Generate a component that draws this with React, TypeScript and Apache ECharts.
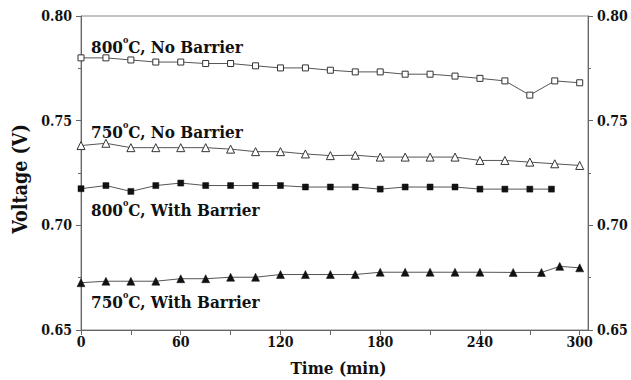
import React, { useEffect, useRef } from "react";
import * as echarts from "echarts";

const timeTicks = [0, 60, 120, 180, 240, 300];
const voltageTicks = [0.65, 0.7, 0.75, 0.8];

const t800NoBarrier = [0, 15, 30, 45, 60, 75, 90, 105, 120, 135, 150, 165, 180, 195, 210, 225, 240, 255, 270, 285, 300];
const v800NoBarrier = [0.780, 0.780, 0.779, 0.778, 0.778, 0.7773, 0.7773, 0.7762, 0.7752, 0.7752, 0.7741, 0.7733, 0.7733, 0.7722, 0.7722, 0.7713, 0.7702, 0.769, 0.7622, 0.769, 0.7681];

const t750NoBarrier = [0, 15, 30, 45, 60, 75, 90, 105, 120, 135, 150, 165, 180, 195, 210, 225, 240, 255, 270, 285, 300];
const v750NoBarrier = [0.7381, 0.7392, 0.7371, 0.7371, 0.7371, 0.7371, 0.7364, 0.7352, 0.7352, 0.7341, 0.7333, 0.7335, 0.7326, 0.7326, 0.7326, 0.7326, 0.731, 0.731, 0.7302, 0.7294, 0.7286];

const t800Barrier = [0, 15, 30, 45, 60, 75, 90, 105, 120, 135, 150, 165, 180, 195, 210, 225, 240, 255, 270, 283];
const v800Barrier = [0.7175, 0.719, 0.7162, 0.719, 0.7202, 0.719, 0.719, 0.719, 0.719, 0.7183, 0.7183, 0.7183, 0.7173, 0.7183, 0.7183, 0.7183, 0.7173, 0.7173, 0.7173, 0.7173];

const t750Barrier = [0, 15, 30, 45, 60, 75, 90, 105, 120, 135, 150, 165, 180, 195, 210, 225, 240, 260, 277, 288, 300];
const v750Barrier = [0.6726, 0.6733, 0.6733, 0.6733, 0.6745, 0.6745, 0.6752, 0.6752, 0.6765, 0.6765, 0.6765, 0.6765, 0.6776, 0.6776, 0.6776, 0.6776, 0.6776, 0.6775, 0.6775, 0.6804, 0.6797];

const seriesNames = ["800°C, No Barrier", "750°C, No Barrier", "800°C, With Barrier", "750°C, With Barrier"];
const labelTemps = ["800", "750", "800", "750"];
const labelRest = ["C, No Barrier", "C, No Barrier", "C, With Barrier", "C, With Barrier"];

const FONT = "DejaVu Serif Condensed";

function pairs(xs: number[], ys: number[]) {
  return xs.map((x, i) => [x, ys[i]]);
}

export default function App() {
  const ref = useRef<HTMLDivElement>(null);
  useEffect(() => {
    if (!ref.current) return;
    const chart = echarts.init(ref.current, undefined, { renderer: "svg" });
    const axisLine = { show: true, lineStyle: { color: "#666", width: 1 } };
    const tickLabel = {
      fontFamily: FONT,
      fontWeight: "bold" as const,
      fontSize: 14,
      color: "#111",
    };
    const yAxisCommon = {
      type: "value" as const,
      min: 0.65,
      max: 0.8,
      interval: 0.05,
      axisLine,
      axisTick: { show: true, inside: false, length: 5, lineStyle: { color: "#666" } },
      minorTick: { show: true, splitNumber: 2, length: 3, lineStyle: { color: "#666" } },
      splitLine: { show: false },
      axisLabel: {
        ...tickLabel,
        margin: 9,
        formatter: (v: number) => (voltageTicks.some((t) => Math.abs(t - v) < 1e-6) ? v.toFixed(2) : ""),
      },
    };
    const commonLine = { color: "#555", width: 1 };
    const labelY = [46.7, 131.5, 209.5, 301.5];
    const graphics = labelTemps.map((temp, i) => ({
      type: "text",
      x: 91,
      y: labelY[i],
      style: {
        text: `{n|${temp}}{s|o}{n|${labelRest[i]}}`,
        textVerticalAlign: "middle",
        textAlign: "left",
        rich: {
          n: { fontFamily: FONT, fontWeight: "bold", fontSize: 17, lineHeight: 22, fill: "#111", color: "#111" },
          s: { fontFamily: FONT, fontWeight: "bold", fontSize: 9, lineHeight: 22, verticalAlign: "top", fill: "#111", color: "#111" },
        },
      },
    }));
    chart.setOption({
      animation: false,
      backgroundColor: "#fff",
      grid: { left: 81, right: 43, top: 16, bottom: 50, show: true, borderColor: "#888", borderWidth: 1, backgroundColor: "transparent", containLabel: false, outerBoundsMode: "none" },
      xAxis: {
        type: "value",
        min: 0,
        max: 305,
        interval: 30,
        name: "Time (min)",
        nameLocation: "middle",
        nameGap: 29,
        nameTextStyle: { fontFamily: FONT, fontWeight: "bold", fontSize: 17, color: "#111", padding: [0, 0, 0, 8] },
        axisLine,
        axisTick: { show: true, length: 5, lineStyle: { color: "#666" } },
        splitLine: { show: false },
        axisLabel: {
          ...tickLabel,
          margin: 5,
          showMaxLabel: false,
          formatter: (v: number) => (timeTicks.includes(v) ? String(v) : ""),
        },
      },
      yAxis: [
        {
          ...yAxisCommon,
          position: "left",
          name: "Voltage (V)",
          nameLocation: "middle",
          nameGap: 50,
          nameTextStyle: { fontFamily: FONT, fontWeight: "bold", fontSize: 19.5, color: "#111", padding: [0, 12, 0, 0] },
        },
        { ...yAxisCommon, position: "right" },
      ],
      graphic: graphics,
      series: [
        {
          name: seriesNames[0],
          type: "line",
          data: pairs(t800NoBarrier, v800NoBarrier),
          symbol: "rect",
          symbolSize: 6,
          lineStyle: commonLine,
          itemStyle: { color: "#fff", borderColor: "#333", borderWidth: 1 },
        },
        {
          name: seriesNames[1],
          type: "line",
          data: pairs(t750NoBarrier, v750NoBarrier),
          symbol: "triangle",
          symbolSize: 8,
          lineStyle: commonLine,
          itemStyle: { color: "#fff", borderColor: "#333", borderWidth: 1 },
        },
        {
          name: seriesNames[2],
          type: "line",
          data: pairs(t800Barrier, v800Barrier),
          symbol: "rect",
          symbolSize: 6,
          lineStyle: commonLine,
          itemStyle: { color: "#111", borderColor: "#111", borderWidth: 0.5 },
        },
        {
          name: seriesNames[3],
          type: "line",
          data: pairs(t750Barrier, v750Barrier),
          symbol: "triangle",
          symbolSize: 8,
          lineStyle: commonLine,
          itemStyle: { color: "#111", borderColor: "#111", borderWidth: 0.5 },
        },
      ],
    });
    return () => chart.dispose();
  }, []);
  return (
    <div
      ref={ref}
      style={{ position: "fixed", left: 0, top: 0, width: 631, height: 380, background: "#fff" }}
    />
  );
}
